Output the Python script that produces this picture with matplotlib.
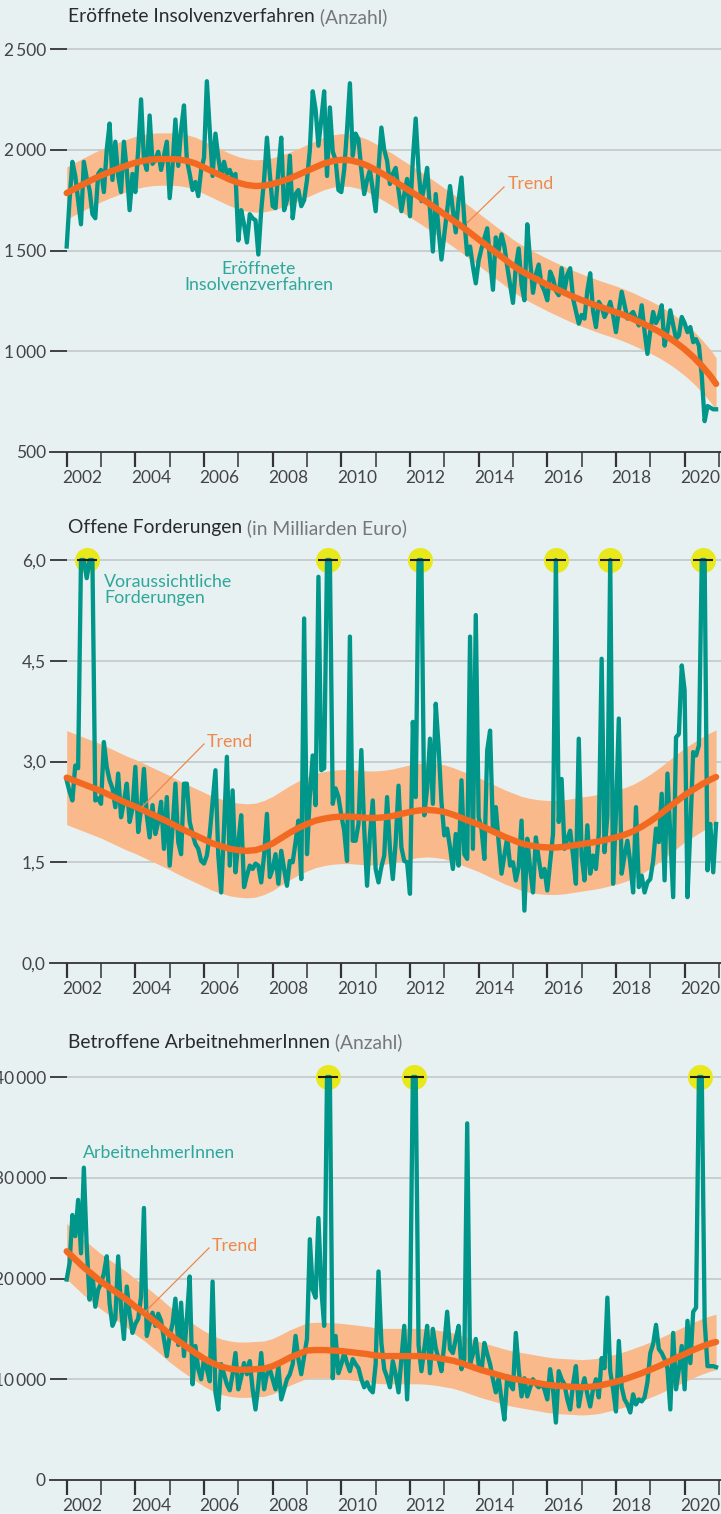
import numpy as np
import matplotlib
matplotlib.use("Agg")
import matplotlib.pyplot as plt
from matplotlib.lines import Line2D

W, H = 721, 1514
BG = "#e7f1f2"
TEAL = "#00968a"
TEAL_TXT = "#2ea79a"
ORANGE = "#f26a21"
ORANGE_TXT = "#f0884a"
BAND = "#f9b98b"
YELLOW = "#e8e81a"
GRID = "#c4c9cb"
DARK = "#333333"
plt.rcParams["font.family"] = ["Lato", "DejaVu Sans"]

# Monatswerte Jan 2002 - Dez 2020
insolvenzen = [
    1520, 1750, 1940, 1870, 1750, 1630, 1940, 1860, 1800, 1680, 1660, 1880,
    1900, 1790, 2000, 2130, 1850, 2040, 1870, 1790, 2040, 1900, 1700, 1880,
    1790, 2000, 2250, 1950, 1900, 2170, 1930, 1950, 1990, 1900, 1970, 2040,
    1760, 1920, 2150, 1920, 2100, 2220, 1950, 1880, 1800, 1840, 1770, 1900,
    1960, 2340, 2100, 1870, 2080, 1960, 1870, 1940, 1880, 1900, 1860, 1880,
    1550, 1700, 1630, 1540, 1680, 1660, 1650, 1480, 1700, 1850, 2060, 1880,
    1720, 1710, 1900, 2060, 1700, 1750, 1970, 1660, 1780, 1800, 1720, 1750,
    1850, 2000, 2290, 2200, 2020, 2150, 2290, 1870, 2210, 1990, 1950, 1800,
    1790, 1900, 2100, 2330, 1970, 2080, 2050, 1900, 1780, 1850, 1900, 1800,
    1695, 1900, 2110, 2000, 1945, 1830, 1880, 1910, 1800, 1695, 1780, 1855,
    1670, 1950, 2155, 1900, 1745, 1820, 1910, 1700, 1495, 1780, 1600, 1455,
    1580, 1700, 1820, 1700, 1590, 1750, 1862, 1650, 1480, 1520, 1420, 1337,
    1450, 1510, 1560, 1610, 1450, 1305, 1565, 1500, 1580, 1520, 1420, 1330,
    1240, 1420, 1510, 1330, 1253, 1630, 1450, 1290, 1380, 1430, 1330, 1300,
    1253, 1395, 1360, 1300, 1278, 1412, 1300, 1380, 1412, 1262, 1200, 1137,
    1180, 1162, 1300, 1387, 1200, 1120, 1245, 1220, 1170, 1200, 1245, 1180,
    1095, 1200, 1295, 1230, 1162, 1180, 1195, 1160, 1128, 1228, 1100, 987,
    1100, 1195, 1140, 1170, 1228, 1028, 1100, 1203, 1130, 1062, 1078, 1170,
    1140, 1095, 1120, 1045, 1060, 1028, 878, 653, 728, 720, 712, 712]

forderungen = [
    2.72, 2.55, 2.42, 2.94, 2.90, 6.0, 6.0, 5.73, 6.0, 6.0, 2.42, 2.45,
    2.37, 3.29, 2.92, 2.72, 2.60, 2.32, 2.82, 2.17, 2.40, 2.67, 2.10, 2.30,
    2.92, 1.95, 2.30, 2.89, 2.20, 1.87, 2.35, 1.92, 2.10, 2.40, 1.70, 2.47,
    1.45, 2.00, 2.67, 1.80, 1.62, 2.67, 2.67, 2.10, 1.92, 1.77, 1.70, 1.52,
    1.48, 1.60, 1.92, 2.40, 2.87, 1.60, 1.05, 2.00, 3.07, 1.45, 2.57, 1.35,
    1.80, 2.20, 1.13, 1.30, 1.45, 1.40, 1.48, 1.45, 1.20, 1.60, 2.22, 1.28,
    1.40, 1.62, 1.18, 1.67, 1.40, 1.15, 1.52, 1.50, 1.80, 2.12, 1.25, 5.13,
    1.62, 2.50, 3.09, 2.35, 5.75, 2.87, 2.90, 6.0, 6.0, 2.37, 2.60, 2.47,
    2.20, 1.97, 1.52, 4.86, 1.82, 1.82, 2.07, 3.17, 2.00, 1.15, 1.90, 2.42,
    1.40, 1.20, 1.43, 1.60, 2.47, 1.70, 1.25, 1.80, 2.64, 1.72, 1.52, 1.50,
    1.03, 3.59, 2.47, 6.0, 6.0, 2.20, 2.60, 3.34, 2.37, 3.86, 3.22, 2.40,
    1.90, 2.00, 1.72, 1.40, 1.92, 1.45, 2.72, 1.62, 1.55, 4.86, 1.70, 5.18,
    2.17, 2.00, 1.55, 3.17, 3.46, 1.97, 2.32, 1.80, 1.33, 1.60, 1.87, 1.45,
    1.50, 1.23, 1.43, 2.12, 0.78, 1.85, 1.40, 1.05, 1.87, 1.55, 1.28, 1.40,
    1.08, 1.50, 1.92, 6.0, 2.10, 2.74, 1.70, 1.85, 1.97, 1.60, 1.18, 3.34,
    1.60, 1.23, 2.05, 1.33, 1.60, 1.40, 1.92, 4.53, 1.65, 2.20, 6.0, 1.18,
    2.22, 3.64, 1.33, 1.60, 1.82, 1.50, 1.05, 2.32, 1.13, 1.30, 1.05, 1.20,
    1.25, 1.52, 2.00, 1.80, 2.52, 1.23, 2.82, 1.90, 0.98, 3.36, 3.41, 4.43,
    4.06, 0.98, 2.00, 3.14, 3.09, 3.24, 6.0, 6.0, 1.38, 2.07, 1.35, 2.07]

arbeitnehmer = [
    19900, 21500, 26300, 24200, 27800, 22500, 31000, 23200, 17900, 20500, 17200, 18900,
    19500, 20500, 22200, 17500, 15300, 16000, 22200, 17000, 14000, 19200, 16500, 14600,
    15500, 16000, 18200, 27000, 14300, 15500, 16600, 15300, 16500, 15800, 14000, 12300,
    14300, 15500, 18000, 13400, 17600, 12300, 16000, 20200, 9500, 13300, 11000, 10000,
    12000, 11000, 9800, 19700, 8700, 7000, 11500, 10500, 9500, 8900, 10500, 12600,
    9000, 10200, 11600, 10500, 11800, 9000, 7000, 9500, 12600, 9000, 10500, 11000,
    10000, 9000, 11300, 8000, 9000, 10000, 10500, 11500, 14300, 12000, 10500, 12300,
    14000, 23900, 18900, 18100, 26000, 19000, 15300, 40000, 40000, 10100, 14300, 10600,
    11500, 12600, 11600, 10800, 12000, 11500, 11100, 10000, 9200, 9700, 9000, 8700,
    11500, 20700, 13600, 11000, 10200, 9200, 11800, 10500, 8700, 12000, 15300, 8000,
    15000, 40000, 40000, 13400, 10800, 13000, 15300, 10600, 15000, 13100, 12000, 10800,
    13500, 16700, 13000, 12600, 14000, 15300, 11000, 12000, 35400, 11500, 12500, 14000,
    11500, 10800, 13600, 12500, 11500, 10000, 8700, 10100, 8000, 6000, 10300, 9500,
    9000, 14600, 11000, 8300, 10100, 8300, 9200, 10000, 9500, 9200, 9600, 9000,
    8000, 11000, 9000, 5700, 10800, 10000, 9500, 8000, 7000, 9500, 11300, 7300,
    9000, 10100, 8500, 7300, 9000, 10000, 8200, 12100, 11100, 18100, 10800, 9000,
    6800, 13800, 9200, 8000, 7500, 6700, 8500, 7500, 8000, 7800, 8200, 9700,
    12600, 13500, 15400, 13000, 12600, 12000, 11100, 7000, 14600, 9000, 11000, 13300,
    9000, 15800, 11600, 16700, 17100, 40000, 40000, 15800, 11300, 11300, 11300, 11200]

# Trend je Quartal (plus letzter Monat)
trend_insolvenzen = [
    1785, 1808, 1830, 1852, 1872, 1890, 1906, 1922, 1936, 1946, 1952, 1954,
    1954, 1952, 1945, 1932, 1912, 1892, 1872, 1852, 1836, 1825, 1820, 1822,
    1830, 1843, 1858, 1876, 1895, 1914, 1932, 1944, 1950, 1948, 1938, 1922,
    1900, 1876, 1850, 1822, 1795, 1768, 1740, 1710, 1680, 1650, 1620, 1588,
    1555, 1523, 1490, 1458, 1425, 1398, 1374, 1352, 1330, 1310, 1290, 1271,
    1254, 1238, 1222, 1208, 1194, 1178, 1160, 1140, 1120, 1098, 1072, 1043,
    1010, 972, 928, 878, 838]
trend_forderungen = [
    2.76, 2.71, 2.66, 2.61, 2.56, 2.50, 2.44, 2.38, 2.33, 2.27, 2.21, 2.15,
    2.09, 2.02, 1.96, 1.90, 1.84, 1.78, 1.74, 1.70, 1.68, 1.67, 1.68, 1.72,
    1.78, 1.86, 1.94, 2.01, 2.07, 2.12, 2.15, 2.17, 2.18, 2.18, 2.17, 2.16,
    2.16, 2.17, 2.19, 2.22, 2.25, 2.27, 2.28, 2.27, 2.25, 2.21, 2.16, 2.11,
    2.06, 2.00, 1.94, 1.88, 1.83, 1.78, 1.75, 1.73, 1.72, 1.72, 1.73, 1.75,
    1.77, 1.79, 1.81, 1.84, 1.87, 1.91, 1.96, 2.03, 2.11, 2.20, 2.30, 2.40,
    2.50, 2.58, 2.66, 2.73, 2.77]
trend_arbeitnehmer = [
    22700, 21900, 21100, 20400, 19700, 19100, 18500, 17900, 17200, 16600, 15900, 15200,
    14450, 13800, 13200, 12600, 12050, 11600, 11250, 11050, 10950, 10950, 11000, 11050,
    11300, 11700, 12150, 12500, 12850, 12900, 12900, 12850, 12800, 12700, 12600, 12500,
    12350, 12300, 12300, 12300, 12300, 12300, 12250, 12150, 12000, 11850, 11600, 11300,
    11000, 10750, 10500, 10250, 10050, 9900, 9750, 9600, 9450, 9350, 9300, 9250,
    9200, 9250, 9350, 9550, 9750, 10000, 10300, 10600, 10950, 11300, 11700, 12100,
    12500, 12900, 13250, 13550, 13700]
band_insolvenzen = 130
band_forderungen = 0.70
band_arbeitnehmer = 2750

months = 2002 + np.arange(228) / 12
trend_t = 2002 + np.append(np.arange(0, 228, 3), 227) / 12
years = list(range(2002, 2022))
X0, X1 = 2001.514, 2021.06

fig = plt.figure(figsize=(W / 100, H / 100), dpi=100, facecolor=BG)


def panel(top, bottom, values, trend, band, yticks, ylabels, cap=None):
    # 403 px zwischen unterstem und oberstem Tick
    ax = fig.add_axes([50 / W, 1 - bottom / H, 671 / W, (bottom - top) / H])
    ax.set_facecolor(BG)
    span = yticks[-1] - yticks[0]
    ax.set_xlim(X0, X1)
    ax.set_ylim(yticks[0], yticks[0] + span * (bottom - top) / 403)
    for s in ["top", "right", "left"]:
        ax.spines[s].set_visible(False)
    ax.spines["bottom"].set_color(DARK)
    ax.spines["bottom"].set_linewidth(1.3)
    ax.hlines(yticks[1:], 2002, X1, color=GRID, lw=1.2, zorder=0.5)
    ax.hlines(yticks[1:], X0, 2002, color=DARK, lw=1.3, zorder=0.5)
    tr = np.array(trend)
    ax.fill_between(trend_t, tr - band, tr + band, color=BAND, lw=0, zorder=1)
    ax.plot(months, values, color=TEAL, lw=3.1, solid_joinstyle="round", zorder=3)
    ax.plot(trend_t, tr, color=ORANGE, lw=4.6, solid_capstyle="round", zorder=4)
    if cap is not None:
        v = np.array(values)
        idx = np.where(v >= cap)[0]
        runs = []
        for i in idx:
            if runs and i - runs[-1][-1] <= 2:
                runs[-1].append(i)
            else:
                runs.append([i])
        cx = [months[[r[0], r[-1]]].mean() for r in runs]
        ax.plot(cx, [cap] * len(cx), "o", ms=18, color=YELLOW, mew=0, zorder=2, clip_on=False)
        ax.plot(cx, [cap] * len(cx), "_", ms=14, mew=1.5, color="#1e1e1e", zorder=5, clip_on=False)
    ax.set_yticks(yticks, ylabels)
    ax.tick_params(axis="y", length=0, pad=3, labelsize=12.5, labelcolor="#444444")
    ax.set_xticks(years, [""] * len(years))
    ax.tick_params(axis="x", which="major", direction="out", length=10.8, width=1.6, color=DARK)
    for k, t in enumerate(ax.xaxis.get_major_ticks()):
        if years[k] % 2:
            t.tick1line.set_color("#6a6a6a")
            t.tick1line.set_markeredgewidth(1.1)
    ax.set_xticks([y + 0.45 for y in years[:-1:2]], [str(y) for y in years[:-1:2]], minor=True)
    ax.tick_params(axis="x", which="minor", length=0, pad=13, labelsize=12.5, labelcolor="#444444")
    return ax


def title(py, main, unit):
    t = fig.text(68 / W, 1 - py / H, main, fontsize=13.9, color="#2b2b2b", va="center")
    bb = t.get_window_extent(fig.canvas.get_renderer())
    fig.text(bb.x1 / W, 1 - py / H, " " + unit, fontsize=13.9, color="#777777", va="center")


def label(px, py, s, color, ha="left", size=12.8):
    fig.text(px / W, 1 - py / H, s, fontsize=size, color=color, ha=ha, va="center",
             multialignment=ha, linespacing=1.05)


def leader(x0, y0, x1, y1):
    fig.add_artist(Line2D([x0 / W, x1 / W], [1 - y0 / H, 1 - y1 / H], color=ORANGE_TXT, lw=0.9))


ts = "\u2009"
panel(30, 452, insolvenzen, trend_insolvenzen, band_insolvenzen,
      [500, 1000, 1500, 2000, 2500], ["500", "1" + ts + "000", "1" + ts + "500", "2" + ts + "000", "2" + ts + "500"])
panel(540, 963, forderungen, trend_forderungen, band_forderungen,
      [0, 1.5, 3.0, 4.5, 6.0], ["0,0", "1,5", "3,0", "4,5", "6,0"], cap=6.0)
panel(1055, 1480, arbeitnehmer, trend_arbeitnehmer, band_arbeitnehmer,
      [0, 10000, 20000, 30000, 40000], ["0", "10" + ts + "000", "20" + ts + "000", "30" + ts + "000", "40" + ts + "000"], cap=40000)

title(17, "Eröffnete Insolvenzverfahren", "(Anzahl)")
title(528, "Offene Forderungen", "(in Milliarden Euro)")
title(1042, "Betroffene ArbeitnehmerInnen", "(Anzahl)")

label(259, 277, "Eröffnete\nInsolvenzverfahren", TEAL_TXT, ha="center")
label(104, 590, "Voraussichtliche\nForderungen", TEAL_TXT)
label(83, 1153, "ArbeitnehmerInnen", TEAL_TXT)

label(508, 184, "Trend", ORANGE_TXT)
leader(504, 187, 467, 223)
label(207, 742, "Trend", ORANGE_TXT)
leader(204, 744, 142, 807)
label(212, 1246, "Trend", ORANGE_TXT)
leader(209, 1248, 145, 1312)

fig.savefig("out.png", dpi=100, facecolor=BG)
